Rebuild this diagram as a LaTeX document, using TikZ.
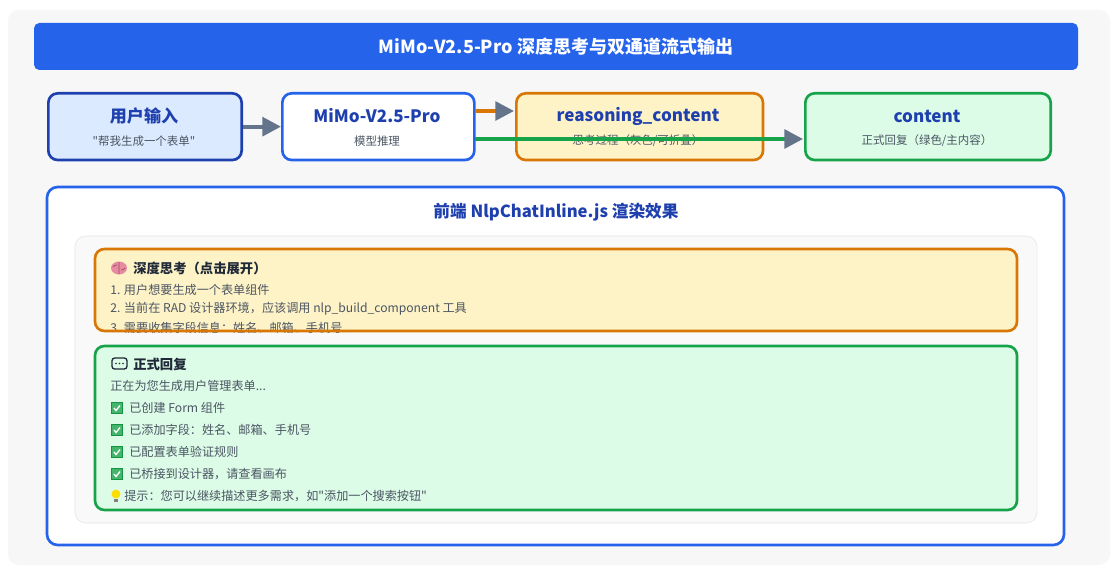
\documentclass[tikz,border=0pt]{standalone}
\usepackage{fontspec}
\setmainfont{Noto Sans CJK SC}
\usetikzlibrary{arrows.meta,positioning}
\definecolor{blueA}{HTML}{2563EB}
\definecolor{blueD}{HTML}{1E40AF}
\definecolor{blueL}{HTML}{DBEAFE}
\definecolor{orgD}{HTML}{D97706}
\definecolor{orgL}{HTML}{FEF3C7}
\definecolor{grnD}{HTML}{16A34A}
\definecolor{grnL}{HTML}{DCFCE7}
\definecolor{arrG}{HTML}{64748B}
\definecolor{txtG}{HTML}{4B5563}
\definecolor{txtD}{HTML}{1F2937}
\definecolor{brainP}{HTML}{E88AA0}
\tikzset{
	stage/.style={draw, line width=2pt, rounded corners=7pt, minimum width=#1, minimum height=50pt, anchor=north west},
	ttl/.style={font=\fontsize{12.8}{14}\selectfont\bfseries, text=blueD},
	sub/.style={font=\fontsize{8.6}{10}\selectfont, text=txtG},
	line/.style={font=\fontsize{9.1}{10}\selectfont, text=txtG, anchor=west, inner sep=0pt},
	flow/.style={line width=3pt, -{Triangle[length=14pt,width=14pt,color=arrG]}},
	chk/.pic={\fill[grnD!90!black] (-6,-6) rectangle (6,6); \fill[grnD!80!white] (-5,-5) rectangle (5,5); \draw[white, line width=1pt] (-3,0) -- (-1,2.5) -- (3,-2.5);}
}
\begin{document}
\begin{tikzpicture}[x=0.75pt,y=-0.75pt]
	\useasboundingbox (0,0) rectangle (1119,570);
	\fill[white] (0,0) rectangle (1119,570);
	\fill[gray!6, rounded corners=8pt] (8,10) rectangle (1110,565);
	%Title bar
	\fill[blueA, rounded corners=4pt] (34,23) rectangle (1078,70);
	\node[text=white, font=\fontsize{13.5}{15}\selectfont\bfseries] (title) at (556,47) {MiMo-V2.5-Pro 深度思考与双通道流式输出};
	%Pipeline boxes
	\node[stage=145pt, fill=blueL, draw=blueD] (input) at (47,92) {};
	\node[stage=144pt, fill=white, draw=blueA] (model) at (281,92) {};
	\node[stage=185pt, fill=orgL, draw=orgD] (reason) at (515,92) {};
	\node[stage=184pt, fill=grnL, draw=grnD] (content) at (804,92) {};
	\node[ttl] at (144,116) {用户输入};
	\node[sub] at (144,141) {\textquotedbl 帮我生成一个表单\textquotedbl};
	\node[ttl] at (377,116) {MiMo-V2.5-Pro};
	\node[sub] at (377,141) {模型推理};
	\node[ttl] at (638,116) {reasoning\_content};
	\node[sub] at (638,141) {思考过程（灰色/可折叠）};
	%Connectors
	\coordinate (modelR1) at (475,111);
	\coordinate (reasonL1) at (514,111);
	\coordinate (modelR2) at (475,139);
	\coordinate (contentL) at (803,139);
	\draw[flow, draw=arrG] (input.east) -- (model.west);
	\draw[flow, draw=orgD] (modelR1) -- (reasonL1);
	\draw[flow, draw=grnD] (modelR2) -- (contentL);
	\node[ttl] at (927,116) {content};
	\node[sub] at (927,141) {正式回复（绿色/主内容）};
	%Render panel
	\draw[blueA, line width=2pt, fill=white, rounded corners=8pt] (47,187) rectangle (1064,545);
	\node[ttl, font=\fontsize{12.5}{14}\selectfont\bfseries] (panel) at (556,212) {前端 NlpChatInline.js 渲染效果};
	\draw[gray!20, fill=gray!5, rounded corners=8pt] (75,236) rectangle (1037,523);
	%Thinking block
	\fill[orgL, rounded corners=7pt] (95,249) rectangle (1017,331);
	\fill[brainP] (119,268) ellipse (8 and 6.5);
	\draw[brainP!60!black, line width=0.5pt] (119,262) -- (119,274) (113,267) to[bend left] (117,265) (121,270) to[bend right] (125,268);
	\node[line, font=\fontsize{10}{11}\selectfont\bfseries, text=txtD] at (133,268) {深度思考（点击展开）};
	\node[line] at (110,290) {1. 用户想要生成一个表单组件};
	\node[line] at (110,309) {2. 当前在 RAD 设计器环境，应该调用 nlp\_build\_component 工具};
	\node[line] at (110,328) {3. 需要收集字段信息：姓名、邮箱、手机号...};
	\draw[orgD, line width=2pt, rounded corners=7pt] (95,249) rectangle (1017,331);
	%Reply block
	\draw[grnD, line width=2pt, fill=grnL, rounded corners=7pt] (95,346) rectangle (1017,510);
	\draw[txtD, line width=1pt, rounded corners=2pt] (112,358) rectangle (127,369);
	\foreach \d in {116,119.5,123} \fill[txtD] (\d,363.5) circle (0.9);
	\node[line, font=\fontsize{10}{11}\selectfont\bfseries, text=txtD] at (133,364) {正式回复};
	\node[line] at (110,386) {正在为您生成用户管理表单...};
	\foreach \y/\t in {408/已创建 Form 组件, 430/已添加字段：姓名、邮箱、手机号, 452/已配置表单验证规则, 474/已桥接到设计器，请查看画布} {
		\pic at (117,\y) {chk};
		\node[line] at (129,\y) {\t};
	}
	\fill[yellow!80!orange] (116,494) circle (4.5);
	\fill[gray] (114,499) rectangle (118,502);
	\node[line] at (124,496) {提示：您可以继续描述更多需求，如\textquotedbl 添加一个搜索按钮\textquotedbl};
\end{tikzpicture}
\end{document}
